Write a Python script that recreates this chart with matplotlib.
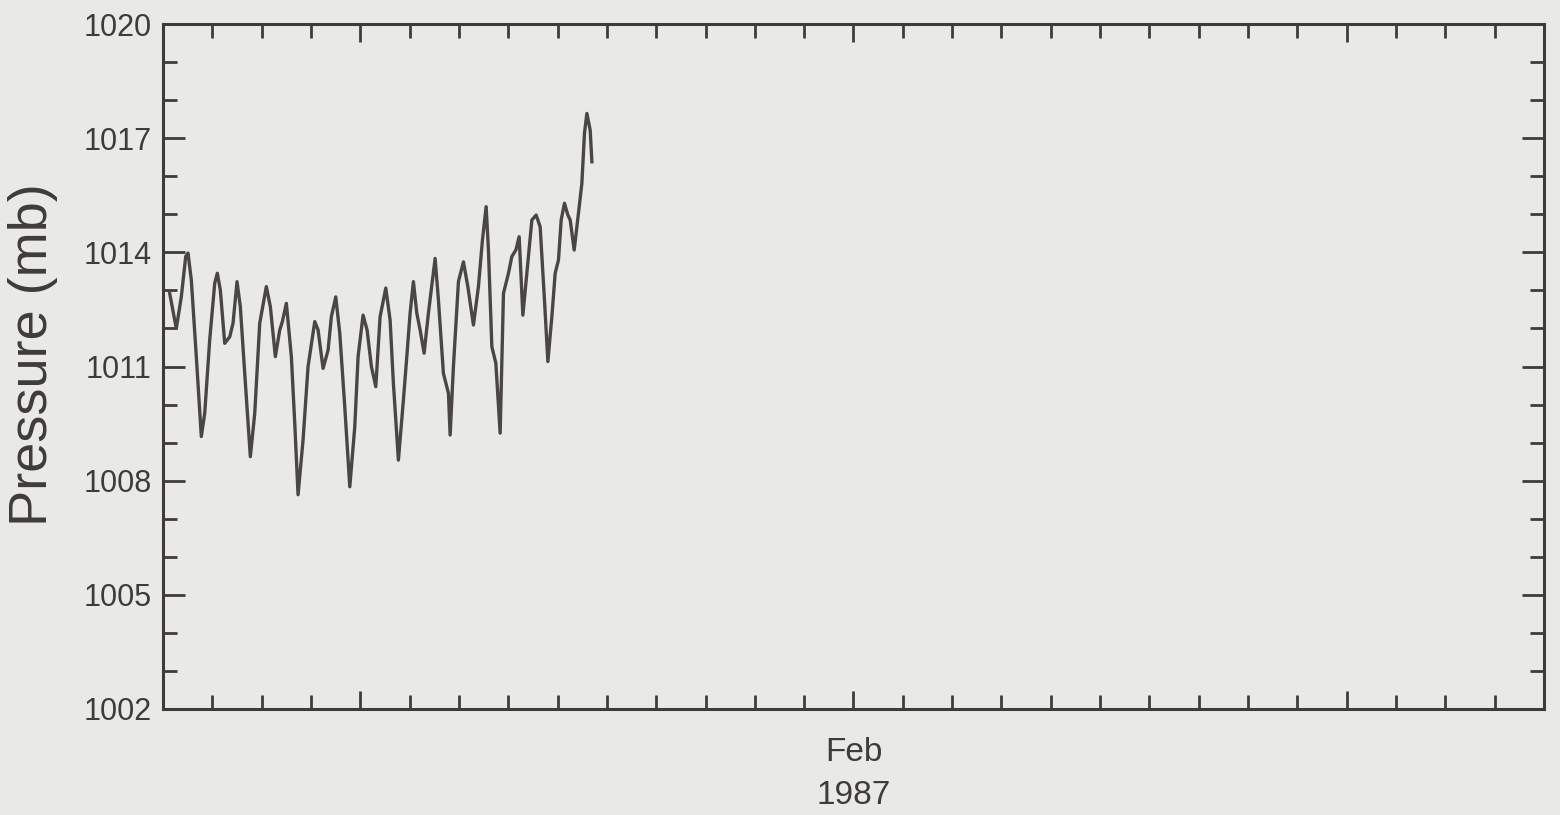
import matplotlib
matplotlib.use("Agg")
import matplotlib.pyplot as plt
from matplotlib.ticker import MultipleLocator, FixedLocator

# readings from Feb 1 1987 00:00 (hours) and surface pressure (mb)
hours = [3.26, 6.47, 8.91, 11.05, 12.17, 13.78, 16.21, 18.64, 20.30, 22.73,
         25.17, 26.43, 27.89, 30.04, 32.47, 34.08, 36.02, 37.63, 39.77, 42.50,
         44.64, 47.07, 50.29, 52.24, 54.67, 56.81, 58.08, 60.02, 62.46, 64.11,
         65.72, 68.15, 70.59, 73.85, 75.46, 77.89, 80.33, 81.93, 84.07, 86.02,
         88.45, 90.89, 93.32, 94.93, 97.36, 99.31, 101.40, 103.55, 105.64, 108.41,
         110.51, 112.11, 114.55, 116.98, 118.64, 120.24, 121.85, 123.50, 125.11, 127.06,
         129.15, 132.41, 134.02, 136.45, 138.89, 139.72, 141.32, 143.76, 146.19, 148.33,
         151.06, 153.49, 155.44, 157.24, 158.36, 160.02, 161.96, 164.06, 165.67, 168.10,
         169.75, 171.70, 173.31, 175.11, 177.05, 179.49, 181.58, 183.53, 185.62, 187.28,
         189.22, 190.83, 192.44, 193.75, 195.36, 197.01, 198.14, 200.08, 202.17, 203.82,
         205.09, 206.26, 207.87, 208.70]
pressure = [1012.92, 1012.00, 1012.83, 1013.89, 1013.98, 1013.27, 1011.26, 1009.16, 1009.77, 1011.70,
            1013.19, 1013.45, 1013.01, 1011.61, 1011.78, 1012.14, 1013.23, 1012.57, 1010.82, 1008.63,
            1009.77, 1012.14, 1013.10, 1012.57, 1011.26, 1011.96, 1012.18, 1012.66, 1011.26, 1009.51,
            1007.63, 1009.07, 1011.00, 1012.18, 1011.96, 1010.95, 1011.43, 1012.31, 1012.83, 1011.87,
            1009.94, 1007.84, 1009.42, 1011.26, 1012.35, 1011.96, 1011.00, 1010.47, 1012.31, 1013.06,
            1012.22, 1010.56, 1008.54, 1010.12, 1011.26, 1012.40, 1013.23, 1012.40, 1011.96, 1011.35,
            1012.40, 1013.84, 1012.75, 1010.82, 1010.30, 1009.20, 1011.00, 1013.23, 1013.75, 1013.10,
            1012.09, 1013.10, 1014.32, 1015.20, 1014.06, 1011.52, 1011.09, 1009.25, 1012.92, 1013.45,
            1013.89, 1014.06, 1014.41, 1012.35, 1013.45, 1014.85, 1014.98, 1014.67, 1012.75, 1011.13,
            1012.31, 1013.45, 1013.80, 1014.85, 1015.29, 1014.98, 1014.85, 1014.06, 1015.03, 1015.81,
            1017.13, 1017.65, 1017.21, 1016.38]

n_days = 28
month_label = "Feb\n1987"
y_min, y_max = 1002, 1020

bg = "#e9eae5"
ink = "#3f3b3b"
line_col = "#4b4646"

days = [h / 24.0 for h in hours]

fig = plt.figure(figsize=(15.6, 8.15), dpi=100, facecolor=bg)
ax = fig.add_axes([163 / 1560, 1 - 709 / 815, 1381 / 1560, 685 / 815])
ax.set_facecolor(bg)

ax.plot(days, pressure, color=line_col, lw=2.4, solid_joinstyle="round")

ax.set_xlim(0, n_days)
ax.set_ylim(y_min, y_max)

# y ticks: major every 3 mb, minor every 1 mb
ax.yaxis.set_major_locator(MultipleLocator(3))
ax.yaxis.set_minor_locator(MultipleLocator(1))

# x ticks: one per day, slightly longer ones on the 5th, 15th and 25th
ax.xaxis.set_major_locator(FixedLocator([4, 14, 24]))
ax.xaxis.set_minor_locator(FixedLocator([d for d in range(1, n_days) if d not in (4, 14, 24)]))
ax.set_xticklabels(["", month_label, ""])

for s in ax.spines.values():
    s.set_color(ink)
    s.set_linewidth(2.2)

ax.tick_params(axis="y", which="both", direction="in", left=True, right=True,
               color=ink, width=2.0, labelsize=22, labelcolor=ink, pad=8)
ax.tick_params(axis="y", which="major", length=16)
ax.tick_params(axis="y", which="minor", length=10)
ax.tick_params(axis="x", which="both", direction="in", bottom=True, top=True,
               color=ink, width=2.0, labelsize=24, labelcolor=ink, pad=20)
ax.tick_params(axis="x", which="major", length=13)
ax.tick_params(axis="x", which="minor", length=10)

for lab in ax.get_xticklabels() + ax.get_yticklabels():
    lab.set_family("Liberation Sans")
for lab in ax.get_xticklabels():
    lab.set_linespacing(1.5)

fig.text(33 / 1560, 1 - 355 / 815, "Pressure (mb)", rotation=90, ha="center", va="center",
         fontsize=39, color=ink, family="Liberation Sans")

fig.savefig("out.png", dpi=100, facecolor=bg)
